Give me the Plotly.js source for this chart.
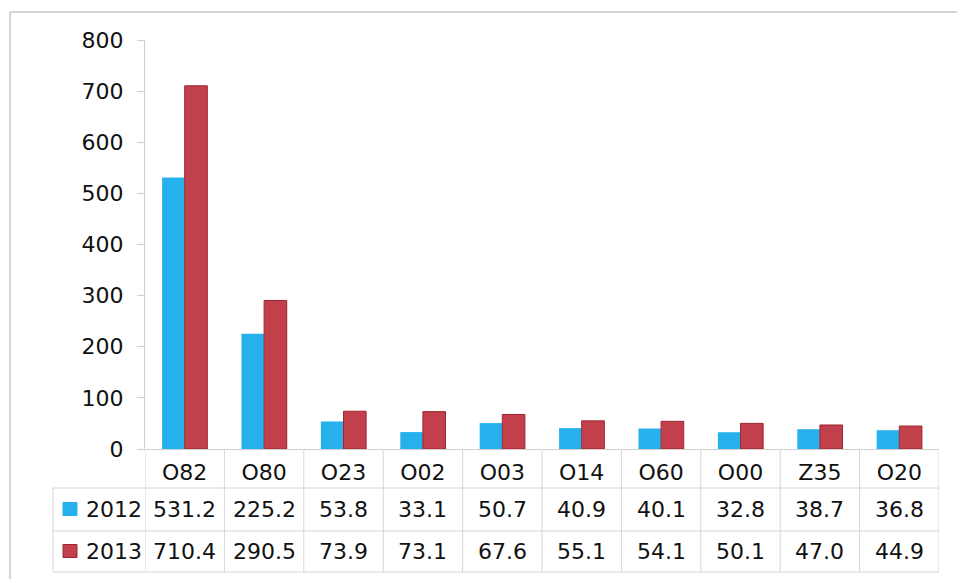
<!DOCTYPE html>
<html>
<head>
<meta charset="utf-8">
<script src="https://cdn.plot.ly/plotly-3.0.1.min.js"></script>
<style>
html,body{margin:0;padding:0;background:#fff;}
#chart{width:957px;height:579px;}
</style>
</head>
<body>
<div id="chart"></div>
<script>
var categories = ["O82","O80","O23","O02","O03","O14","O60","O00","Z35","O20"];
var seriesNames = ["2012","2013"];
var values2012 = [531.2,225.2,53.8,33.1,50.7,40.9,40.1,32.8,38.7,36.8];
var values2013 = [710.4,290.5,73.9,73.1,67.6,55.1,54.1,50.1,47.0,44.9];
var yTicks = [0,100,200,300,400,500,600,700,800];

var colors = ["#27B1EC","#C2404C"];
var lineColors = ["#27B1EC","#9E2633"];
var W = 957, H = 579;
var L = 145, R = 939, T = 40, B = 449;
function px(x){ return (x - L) / (R - L); }
function py(y){ return (B - y) / (B - T); }

var FONT = "DejaVu Sans, Verdana, sans-serif";
var TXT = "#111111";
var FS = 22;
var gridCol = "#d6d6d6";

var allValues = [values2012, values2013];
var traces = allValues.map(function(v, k){
  return {
    type: "bar",
    name: seriesNames[k],
    x: categories,
    y: v,
    marker: {color: colors[k], line: {color: lineColors[k], width: k === 1 ? 1 : 0}},
    hoverinfo: "x+y+name"
  };
});

var shapes = [];
var annotations = [];
// outer frame
shapes.push({type:"line", xref:"paper", yref:"paper", x0:px(10), x1:px(10), y0:py(12), y1:py(600), line:{color:"#d4d4d4", width:2}});
shapes.push({type:"line", xref:"paper", yref:"paper", x0:px(10), x1:px(980), y0:py(12), y1:py(12), line:{color:"#d4d4d4", width:2}});

// table rows
var rowTop = 488, rowMid = 531, rowBot = 572;
[rowTop, rowMid, rowBot].forEach(function(y){
  shapes.push({type:"line", xref:"paper", yref:"paper", x0:px(53), x1:1, y0:py(y), y1:py(y), line:{color:gridCol, width:1}});
});
shapes.push({type:"line", xref:"paper", yref:"paper", x0:px(53), x1:px(53), y0:py(rowTop), y1:py(rowBot), line:{color:gridCol, width:1}});
for (var i = 0; i <= categories.length; i++) {
  shapes.push({type:"line", xref:"x", yref:"paper", x0:i-0.5, x1:i-0.5, y0:0, y1:py(rowBot), line:{color:gridCol, width:1}});
}
// legend keys and row labels
var rowCenters = [(rowTop+rowMid)/2, (rowMid+rowBot)/2];
seriesNames.forEach(function(name, k){
  var c = rowCenters[k];
  shapes.push({type:"rect", xref:"paper", yref:"paper", x0:px(63), x1:px(77), y0:py(c-7), y1:py(c+6),
    fillcolor:colors[k], line:{color:lineColors[k], width:1}});
  annotations.push({xref:"paper", yref:"paper", x:px(84), y:py(c), xanchor:"left", yanchor:"middle",
    text:name, showarrow:false, font:{family:FONT, size:FS, color:TXT}});
  allValues[k].forEach(function(v, j){
    annotations.push({xref:"x", yref:"paper", x:categories[j], y:py(c), xanchor:"center", yanchor:"middle",
      text:v.toFixed(1), showarrow:false, font:{family:FONT, size:FS, color:TXT}});
  });
});

var layout = {
  width: W, height: H,
  margin: {l: L, r: W - R, t: T, b: H - B, pad: 0},
  paper_bgcolor: "#ffffff",
  plot_bgcolor: "#ffffff",
  showlegend: false,
  barmode: "group",
  bargap: 0.43,
  bargroupgap: 0,
  font: {family: FONT, size: FS, color: TXT},
  xaxis: {
    type: "category",
    tickvals: categories,
    ticktext: categories,
    showline: true, linecolor: "#cfcfcf", linewidth: 1,
    showgrid: false, zeroline: false,
    ticks: "", ticklabelstandoff: 4,
    tickfont: {family: FONT, size: FS, color: TXT},
    range: [-0.5, categories.length - 0.5],
    fixedrange: true
  },
  yaxis: {
    range: [0, 800],
    tickvals: yTicks,
    ticktext: yTicks.map(String),
    showline: true, linecolor: "#cfcfcf", linewidth: 1,
    ticks: "outside", ticklen: 7, tickcolor: "#cfcfcf",
    showgrid: false, zeroline: false,
    ticklabelstandoff: 9,
    tickfont: {family: FONT, size: FS, color: TXT},
    fixedrange: true
  },
  shapes: shapes,
  annotations: annotations
};

Plotly.newPlot("chart", traces, layout, {displayModeBar: false, staticPlot: true});
</script>
</body>
</html>
